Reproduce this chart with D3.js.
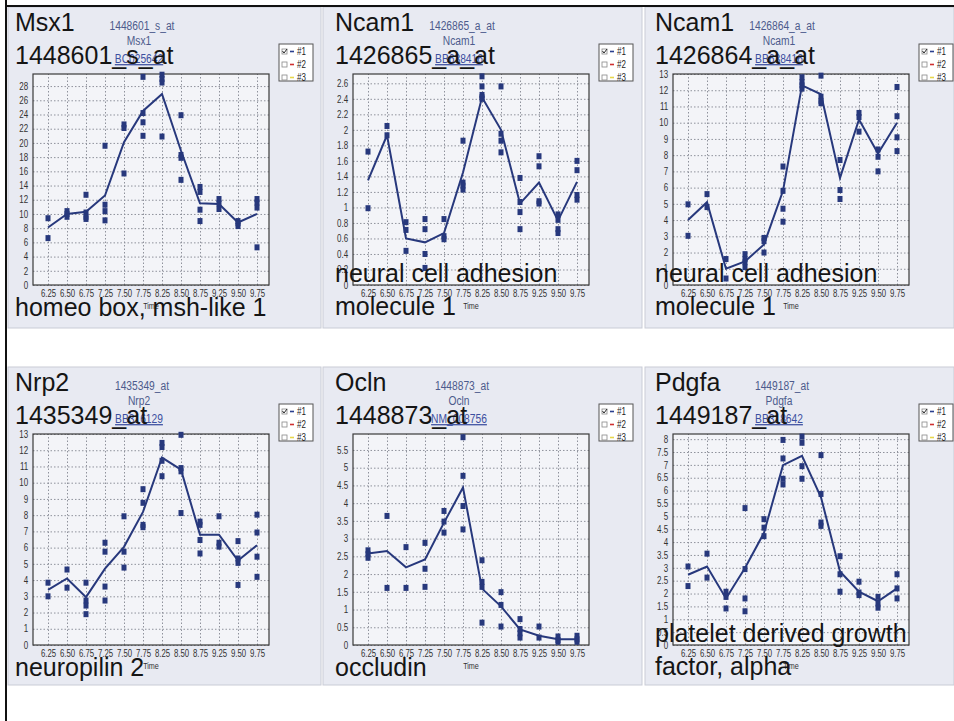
<!DOCTYPE html>
<html>
<head>
<meta charset="utf-8">
<script src="https://cdn.jsdelivr.net/npm/d3@7"></script>
<style>
  body { margin: 0; background: #fff; }
  svg { display: block; font-family: "Liberation Sans", Arial, sans-serif; }
  .narrow { font-family: "Liberation Sans Narrow", "Arial Narrow", "Liberation Sans", sans-serif; }
</style>
</head>
<body>
<svg id="chart" width="954" height="721"></svg>
<script>
// time points (categorical x axis)
const times = ["6.25", "6.50", "6.75", "7.25", "7.50", "7.75", "8.25", "8.50", "8.75", "9.25", "9.50", "9.75"];

const symbols = ["Msx1", "Ncam1", "Ncam1", "Nrp2", "Ocln", "Pdgfa"];
const probes = ["1448601_s_at", "1426865_a_at", "1426864_a_at", "1435349_at", "1448873_at", "1449187_at"];
const accessions = ["BC025642", "BB638416", "BB638416", "BB316129", "NM_008756", "BB318642"];
const descriptions = [
  ["homeo box, msh-like 1"],
  ["neural cell adhesion", "molecule 1"],
  ["neural cell adhesion", "molecule 1"],
  ["neuropilin 2"],
  ["occludin"],
  ["platelet derived growth", "factor, alpha"]
];
const yMax = [29.7, 2.72, 13, 13, 5.95, 8.2];
const yStep = [2, 0.2, 1, 1, 0.5, 0.5];
const legendLabels = ["#1", "#2", "#3"];
const legendColors = ["#2a3f8f", "#d03030", "#e8d84a"];

// mean line per time point
const msx1Mean = [8.1, 10.0, 10.3, 12.6, 20.1, 24.5, 26.9, 18.9, 11.5, 11.4, 8.8, 10.0];
const ncam1aMean = [1.35, 1.93, 0.60, 0.55, 0.67, 1.45, 2.42, 2.0, 1.05, 1.32, 0.83, 1.33];
const ncam1bMean = [4.0, 5.1, 1.0, 1.45, 2.5, 5.8, 12.3, 11.75, 6.6, 10.2, 8.1, 10.0];
const nrp2Mean = [3.4, 4.1, 2.95, 4.7, 6.05, 8.2, 11.55, 10.8, 6.8, 6.8, 5.2, 6.15];
const oclnMean = [2.58, 2.65, 2.19, 2.41, 3.45, 4.44, 1.59, 1.09, 0.44, 0.26, 0.16, 0.16];
const pdgfaMean = [2.73, 3.05, 1.81, 2.99, 4.36, 6.99, 7.35, 5.74, 2.86, 2.07, 1.70, 2.20];

// replicate values per time point
const msx1Reps = [[9.4, 6.6], [10.4, 10.0, 9.6], [12.7, 10.2, 9.6, 9.3], [19.6, 11.3, 10.4, 9.1],
  [22.6, 22.1, 15.7], [29.3, 24.2, 22.9, 21.0], [29.6, 29.0, 28.5, 20.9], [23.9, 18.3, 17.9, 14.8],
  [13.8, 13.1, 10.6, 9.0], [12.1, 11.5, 10.7], [9.0, 8.7, 8.3], [12.1, 11.6, 10.9, 5.3]];
const ncam1aReps = [[1.72, 0.99], [2.05, 1.93], [0.81, 0.71, 0.44], [0.85, 0.72, 0.40, 0.22],
  [0.85, 0.63, 0.59], [1.86, 1.32, 1.28, 1.23], [2.69, 2.56, 2.45, 2.42, 2.40], [2.56, 1.95, 1.86, 1.71],
  [1.38, 1.07, 0.94, 0.72], [1.66, 1.53, 1.08, 1.05], [0.91, 0.84, 0.72, 0.67], [1.60, 1.48, 1.16, 1.10]];
const ncam1bReps = [[4.97, 3.03], [5.6, 4.8], [1.6, 0.4], [1.9, 1.6, 1.4, 1.1],
  [2.9, 2.7, 2.0], [7.3, 5.8, 4.7, 3.9], [12.8, 12.5, 12.3, 12.1], [12.9, 11.6, 11.35, 11.2],
  [7.7, 5.85, 5.3], [10.6, 10.35, 9.45], [8.35, 7.9, 7.0], [12.2, 10.4, 9.1, 8.25]];
const nrp2Reps = [[3.84, 3.0], [4.65, 3.53], [3.84, 2.74, 2.43, 1.9], [6.3, 5.75, 3.6, 2.74],
  [7.93, 5.75, 4.77], [9.6, 8.76, 7.4, 7.26], [12.45, 12.2, 11.35, 10.4], [12.95, 10.9, 10.7, 8.13],
  [7.6, 7.4, 6.47, 5.64], [7.93, 6.3, 6.06], [6.4, 5.33, 5.06, 3.7], [8.03, 6.93, 5.44, 4.2]];
const oclnReps = [[2.67, 2.56, 2.46], [3.64, 1.61], [2.76, 1.61], [2.88, 2.15, 1.64],
  [3.78, 3.48, 3.17], [5.86, 4.77, 3.92, 3.26], [2.39, 1.78, 1.64, 0.63], [1.49, 1.13, 0.52],
  [0.73, 0.45, 0.33, 0.21], [0.52, 0.21], [0.24, 0.14, 0.09], [0.26, 0.16, 0.09]];
const pdgfaReps = [[3.05, 2.29], [3.55, 2.62], [2.07, 1.87, 1.42], [5.32, 2.95, 1.81, 1.31],
  [4.89, 4.56, 4.23], [7.97, 7.25, 6.46, 6.24], [8.1, 7.86, 6.95, 6.46], [7.38, 5.87, 4.76, 4.63],
  [3.45, 2.75, 2.07], [2.46, 2.04, 1.94], [1.87, 1.61, 1.45], [2.75, 2.20, 1.81]];

const means = [msx1Mean, ncam1aMean, ncam1bMean, nrp2Mean, oclnMean, pdgfaMean];
const reps = [msx1Reps, ncam1aReps, ncam1bReps, nrp2Reps, oclnReps, pdgfaReps];

const svg = d3.select("#chart");
const colX = [0, 320, 640];
const rowPlotTop = [74, 434];
const panelBg = [[8, 7, 313, 321], [323, 7, 319, 321], [645, 7, 309, 321],
                 [8, 367, 313, 318], [323, 367, 319, 318], [645, 367, 309, 318]];
const pw = 236, ph = 211;
const navy = "#27387c";
const squeeze = "scale(0.8,1)";   // scanned labels are condensed

svg.append("rect").attr("width", 954).attr("height", 721).attr("fill", "#fff");

panelBg.forEach(b => {
  svg.append("rect").attr("x", b[0]).attr("y", b[1]).attr("width", b[2]).attr("height", b[3])
    .attr("fill", "#e8eaf2").attr("stroke", "#c9ccd6").attr("stroke-width", 1);
});

const fmt = d => String(+d.toFixed(2));

function smallText(x, y, txt, color) {
  return svg.append("g").attr("transform", `translate(${x},${y})`)
    .append("text").attr("class", "narrow").attr("transform", "scale(0.82,1)")
    .attr("text-anchor", "middle").attr("font-size", 12.5).attr("fill", color).text(txt);
}

symbols.forEach((sym, i) => {
  const ox = colX[i % 3];
  const top = rowPlotTop[Math.floor(i / 3)];
  const left = ox + 33;

  const x = d3.scalePoint().domain(times).range([15, 224]);
  const y = d3.scaleLinear().domain([0, yMax[i]]).range([ph, 0]);
  const ticks = d3.range(0, yMax[i] + 1e-9, yStep[i]);

  // small grey-blue header
  const hx = ox + 142;
  smallText(hx, top - 44, probes[i], "#4d5b8c");
  smallText(hx - 3, top - 29, sym, "#4d5b8c");
  smallText(hx - 3, top - 11, accessions[i], "#3c4fa0").style("text-decoration", "underline");

  // legend
  const lg = svg.append("g").attr("transform", `translate(${ox + 279},${top - 30})`);
  lg.append("rect").attr("width", 34).attr("height", 37).attr("fill", "#fff").attr("stroke", "#555");
  legendLabels.forEach((lab, k) => {
    const ry = 5 + k * 13;
    lg.append("rect").attr("x", 3).attr("y", ry).attr("width", 5).attr("height", 5)
      .attr("fill", "#fff").attr("stroke", "#888").attr("stroke-width", 0.8);
    if (k === 0) lg.append("path").attr("d", `M3.5,${ry + 2} L5,${ry + 4} L8,${ry}`)
      .attr("fill", "none").attr("stroke", "#222").attr("stroke-width", 1);
    lg.append("line").attr("x1", 11).attr("x2", 15).attr("y1", ry + 2.5).attr("y2", ry + 2.5)
      .attr("stroke", legendColors[k]).attr("stroke-width", 1.6);
    lg.append("g").attr("transform", `translate(18,${ry + 6})`)
      .append("text").attr("class", "narrow").attr("transform", squeeze)
      .attr("font-size", 10).attr("fill", "#222").text(lab);
  });

  const g = svg.append("g").attr("transform", `translate(${left},${top})`);
  g.append("rect").attr("width", pw).attr("height", ph).attr("fill", "#f3f4f8");

  // dotted grid
  g.append("g").call(d3.axisLeft(y).tickValues(ticks).tickSize(-pw).tickFormat(""))
    .call(s => s.select(".domain").remove())
    .call(s => s.selectAll("line").attr("stroke", "#8f929c").attr("stroke-dasharray", "1.5,2"));
  g.append("g").attr("transform", `translate(0,${ph})`)
    .call(d3.axisBottom(x).tickSize(-ph).tickFormat(""))
    .call(s => s.select(".domain").remove())
    .call(s => s.selectAll("line").attr("stroke", "#8f929c").attr("stroke-dasharray", "1.5,2"));

  // tick labels
  g.append("g").call(d3.axisLeft(y).tickValues(ticks).tickSize(0).tickPadding(6).tickFormat(fmt))
    .call(s => s.select(".domain").remove())
    .call(s => s.selectAll("text").attr("class", "narrow").attr("transform", squeeze)
      .attr("font-size", 10).attr("fill", "#333"));
  g.append("g").attr("transform", `translate(0,${ph})`)
    .call(d3.axisBottom(x).tickSize(0).tickPadding(5))
    .call(s => s.select(".domain").remove())
    .call(s => s.selectAll("text").attr("class", "narrow").attr("transform", "scale(0.78,1)")
      .attr("font-size", 10).attr("fill", "#333"));
  g.append("g").attr("transform", `translate(${pw / 2},${ph + 24})`)
    .append("text").attr("class", "narrow").attr("transform", squeeze)
    .attr("text-anchor", "middle").attr("font-size", 9).attr("fill", "#333").text("Time");

  g.append("rect").attr("width", pw).attr("height", ph).attr("fill", "none")
    .attr("stroke", "#3a3a3a").attr("stroke-width", 1.2);

  // mean line
  g.append("path").datum(means[i])
    .attr("d", d3.line().x((d, k) => x(times[k])).y(d => y(d)))
    .attr("fill", "none").attr("stroke", navy).attr("stroke-width", 2);

  // replicate squares
  const pts = reps[i].flatMap((vals, k) => vals.map(v => ({ t: times[k], v })));
  g.selectAll("rect.pt").data(pts).join("rect").attr("class", "pt")
    .attr("x", d => x(d.t) - 2.5).attr("y", d => y(d.v) - 3)
    .attr("width", 5).attr("height", 6).attr("fill", navy);

  // big black labels
  const tx = ox + 15;
  svg.append("text").attr("x", tx).attr("y", top - 43).attr("font-size", 25).attr("fill", "#151515").text(sym);
  svg.append("text").attr("x", tx).attr("y", top - 10).attr("font-size", 25).attr("fill", "#151515").text(probes[i]);
  const desc = descriptions[i];
  const base = desc.length === 1 ? [242] : [208, 241];
  desc.forEach((line, k) => {
    svg.append("text").attr("x", tx).attr("y", top + base[k]).attr("font-size", 25)
      .attr("fill", "#151515").text(line);
  });
});

// scan frame lines
svg.append("line").attr("x1", 6).attr("x2", 6).attr("y1", 0).attr("y2", 721)
  .attr("stroke", "#111").attr("stroke-width", 2);
svg.append("line").attr("x1", 6).attr("x2", 954).attr("y1", 6).attr("y2", 6)
  .attr("stroke", "#111").attr("stroke-width", 2);
</script>
</body>
</html>
